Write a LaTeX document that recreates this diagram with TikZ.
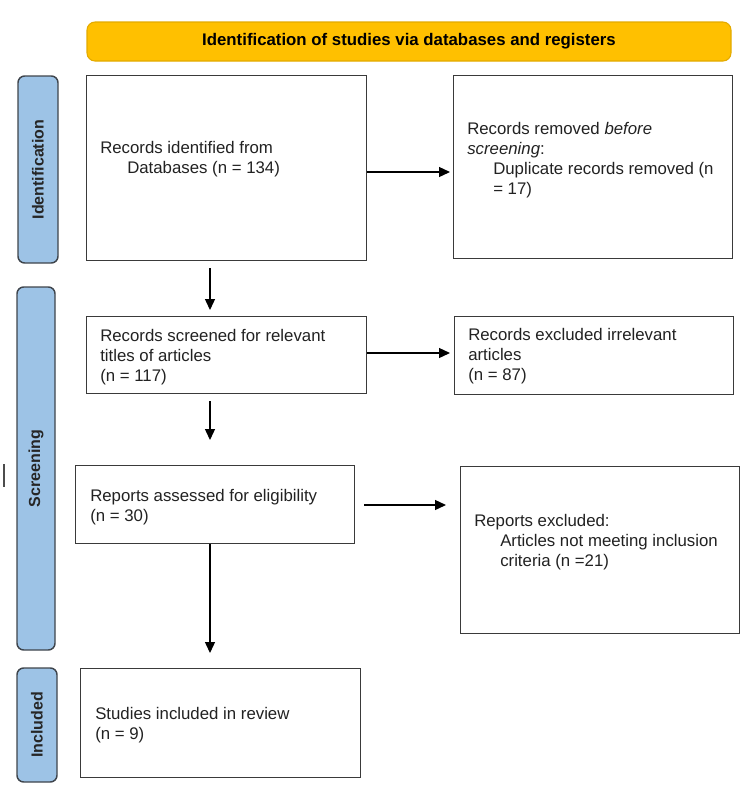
\documentclass[tikz,border=0pt]{standalone}
\usepackage{fontspec}
\setmainfont{Liberation Sans}
\usetikzlibrary{arrows.meta}
\definecolor{sideblue}{HTML}{9DC3E6}
\definecolor{sideedge}{HTML}{3F454C}
\definecolor{gold}{HTML}{FFC000}
\definecolor{goldedge}{HTML}{E3AA00}
\definecolor{boxedge}{HTML}{3A3A3A}
\definecolor{txt}{HTML}{222222}
\begin{document}
\begin{tikzpicture}[x=0.75pt,y=-0.75pt,
  box/.style={draw=boxedge, line width=1.1pt, fill=white, inner sep=0pt, anchor=north west},
  side/.style={draw=sideedge, fill=sideblue, line width=1.1pt, rounded corners=5pt, rotate=90,
    inner sep=0pt, font=\fontsize{12}{14}\selectfont\bfseries, text=black!85},
  title/.style={draw=goldedge, fill=gold, line width=0.8pt, rounded corners=6pt, inner sep=0pt,
    minimum width=483pt, minimum height=29.25pt, font=\fontsize{12.6}{15}\selectfont\bfseries},
  txtnode/.style={anchor=north west, inner sep=0pt, align=left, text=txt,
    font=\fontsize{12.6}{15}\selectfont},
  arr/.style={-{Triangle[length=8.25pt,width=7.5pt]}, line width=1pt, black}]
\useasboundingbox (0,0) rectangle (750,794);

% title bar
\node[title] (ttl) at (409,41.5) {Identification of studies via databases and registers};

% side bars
\node[side, minimum width=140.25pt, minimum height=30pt] (s1) at (38,169.5) {Identification};
\node[side, minimum width=272.25pt, minimum height=28.5pt] (s2) at (36,468.5) {Screening};
\node[side, minimum width=85.5pt, minimum height=30pt] (s3) at (37,725) {Included};

% boxes
\node[box, minimum width=210pt, minimum height=138.75pt] (b1) at (86,75) {};
\node[box, minimum width=209.25pt, minimum height=137.25pt] (b2) at (453,75) {};
\node[box, minimum width=210pt, minimum height=57.75pt] (b3) at (86,316) {};
\node[box, minimum width=209.25pt, minimum height=58.5pt] (b4) at (454,316) {};
\node[box, minimum width=209.25pt, minimum height=58.5pt] (b5) at (75,465) {};
\node[box, minimum width=209.25pt, minimum height=125.25pt] (b6) at (460,466) {};
\node[box, minimum width=210pt, minimum height=81.75pt] (b7) at (80,668) {};

% texts
\node[txtnode] (t1) at (100,139) {\strut Records identified from\\\hspace*{20.25pt}\strut Databases (n = 134)};
\node[txtnode] (t2) at (467,120) {\strut Records removed \textit{before}\\\strut\textit{screening}:\\\hspace*{19.5pt}\strut Duplicate records removed (n\\\hspace*{19.5pt}\strut = 17)};
\node[txtnode] (t3) at (100,327) {\strut Records screened for relevant\\\strut titles of articles\\\strut (n = 117)};
\node[txtnode] (t4) at (468,326) {\strut Records excluded irrelevant\\\strut articles\\\strut (n = 87)};
\node[txtnode] (t5) at (90,487) {\strut Reports assessed for eligibility\\\strut (n = 30)};
\node[txtnode] (t6) at (474,512) {\strut Reports excluded:\\\hspace*{19.5pt}\strut Articles not meeting inclusion\\\hspace*{19.5pt}\strut criteria (n =21)};
\node[txtnode] (t7) at (95,705) {\strut Studies included in review\\\strut (n = 9)};

% helper coordinates for connector lines
\coordinate (vx) at (210,0);
\coordinate (h1) at (0,172);
\coordinate (h2) at (0,353);
\coordinate (h3) at (0,505);

% connectors
\draw[arr, shorten <=5.25pt, shorten >=4.5pt] (b1.south -| vx) -- (b3.north -| vx);
\draw[arr, shorten <=5.25pt, shorten >=18.75pt] (b3.south -| vx) -- (b5.north -| vx);
\draw[arr, shorten >=11.25pt] (b5.south -| vx) -- (b7.north -| vx);
\draw[arr, shorten >=2.25pt] (b1.east |- h1) -- (b2.west |- h1);
\draw[arr, shorten >=3pt] (b3.east |- h2) -- (b4.west |- h2);
\draw[arr, shorten <=6.75pt, shorten >=10.5pt] (b5.east |- h3) -- (b6.west |- h3);

% stray mark at the left edge
\draw[line width=1pt, black!70] (4,464) -- (4,487);
\end{tikzpicture}
\end{document}
